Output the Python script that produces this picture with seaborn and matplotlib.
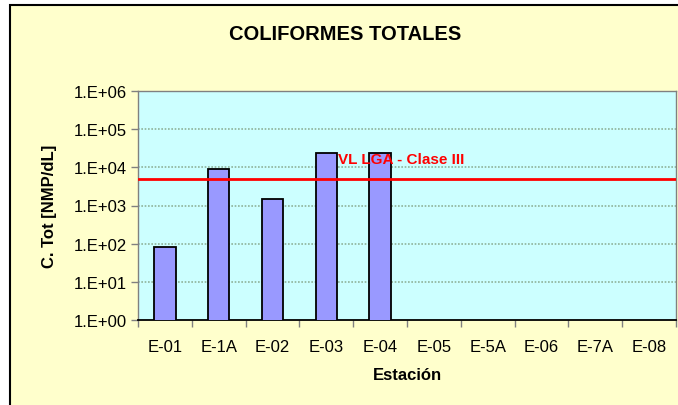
import numpy as np
import pandas as pd
import matplotlib
matplotlib.use("Agg")
import matplotlib.pyplot as plt
from matplotlib.patches import Rectangle
from matplotlib.ticker import FuncFormatter, FixedLocator
import seaborn as sns

estaciones = ["E-01", "E-1A", "E-02", "E-03", "E-04", "E-05", "E-5A", "E-06", "E-7A", "E-08"]
coliformes = [80, 9000, 1500, 24000, 24000, np.nan, np.nan, np.nan, np.nan, np.nan]
limite_lga = 5000
limite_label = "VL LGA - Clase III"

df = pd.DataFrame({"Estacion": estaciones, "CTot": coliformes})

sns.set_style("white")
plt.rcParams["font.family"] = ["Liberation Sans", "DejaVu Sans"]
plt.rcParams["text.color"] = "black"
plt.rcParams["axes.labelcolor"] = "black"
plt.rcParams["xtick.color"] = "black"
plt.rcParams["ytick.color"] = "black"

fig = plt.figure(figsize=(6.78, 4.06), dpi=100, facecolor="white")
# outer chart area frame
fig.patches.append(Rectangle((10 / 678, -0.1), 1.2, 1.1 - 6 / 406,
                             transform=fig.transFigure, facecolor="#FFFFCC",
                             edgecolor="black", linewidth=1.5, zorder=-5))
ax = fig.add_axes([138 / 678, 1 - 321 / 406, (676 - 138) / 678, (321 - 92) / 406])
ax.set_facecolor("#CCFFFF")

ax.set_yscale("log")
sns.barplot(data=df, x="Estacion", y="CTot", color="#9999FF", width=0.4,
            edgecolor="black", linewidth=1.3, saturation=1, ax=ax, zorder=3)
ax.set_ylim(1, 1e6)
ax.set_xlim(-0.5, len(estaciones) - 0.5)

ax.axhline(limite_lga, color="#FF0000", linewidth=2, zorder=4)
ax.text(3.22, limite_lga * 3.4, limite_label, color="#FF0000", fontsize=11,
        fontweight="bold", va="center", ha="left", zorder=5)

# gridlines at each decade
for d in range(1, 6):
    ax.axhline(10 ** d, color="#8FB39A", linestyle=(0, (1, 1)), linewidth=1.2, zorder=1)

ax.yaxis.set_major_locator(FixedLocator([10 ** d for d in range(7)]))
ax.yaxis.set_minor_locator(FixedLocator([]))
ax.yaxis.set_major_formatter(FuncFormatter(lambda v, p: f"1.E+{int(round(np.log10(v))):02d}"))
ax.tick_params(axis="y", which="major", left=True, length=5, width=1, color="#808080",
               labelsize=12, pad=3)

ax.set_xticks(np.arange(-0.5, len(estaciones), 1.0), minor=True)
ax.tick_params(axis="x", which="major", length=0, labelsize=12, pad=14)
ax.tick_params(axis="x", which="minor", bottom=True, length=5, width=1, color="#808080")

for side in ["left", "top", "right"]:
    ax.spines[side].set_color("#808080")
    ax.spines[side].set_linewidth(1)
ax.spines["bottom"].set_color("black")
ax.spines["bottom"].set_linewidth(1.3)

ax.set_xlabel("Estación", fontsize=12, fontweight="bold", labelpad=9)
ax.set_ylabel("C. Tot [NMP/dL]", fontsize=12, fontweight="bold", labelpad=12)
fig.text(345 / 678, 1 - 34 / 406, "COLIFORMES TOTALES", fontsize=14.5,
         fontweight="bold", ha="center", va="center")

fig.savefig("out.png", dpi=100, facecolor=fig.get_facecolor())
